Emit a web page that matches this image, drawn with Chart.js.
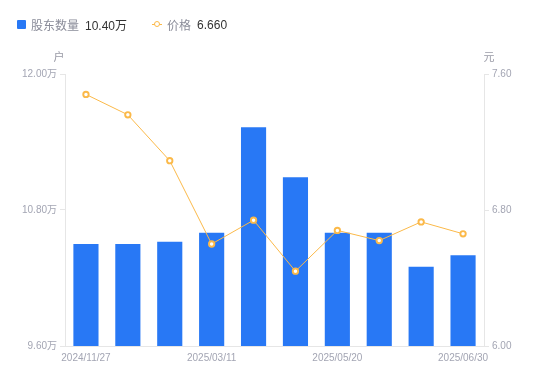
<!DOCTYPE html>
<html><head><meta charset="utf-8">
<script src="https://cdn.jsdelivr.net/npm/chart.js@4/dist/chart.umd.min.js"></script>
<style>
html,body{margin:0;padding:0;background:#fff;}
#wrap{position:relative;width:550px;height:381px;}
#legend{position:absolute;left:17px;top:16px;font-family:"Liberation Sans","Noto Sans CJK SC",sans-serif;font-size:12px;display:flex;align-items:center;white-space:nowrap;}
.lab{color:#8a8c99;margin-left:5px;}
.val{color:#333;margin-left:6px;}
.sq{width:9px;height:9px;background:#2878f5;border-radius:1px;display:inline-block;}
.ln{position:relative;width:10px;height:9px;display:inline-block;}
.ln:before{content:"";position:absolute;left:0;right:0;top:4px;height:1px;background:#fbb949;}
.ln:after{content:"";position:absolute;left:1.5px;top:1px;width:4px;height:4px;border:1.5px solid #fbb949;border-radius:50%;background:#fff;}
</style></head>
<body><div id="wrap">
<canvas id="c" width="550" height="381"></canvas>
<div id="legend"><span class="sq"></span><span class="lab">股东数量</span><span class="val">10.40万</span><span style="width:25px;display:inline-block"></span><span class="ln"></span><span class="lab">价格</span><span class="val">6.660</span></div>
</div>
<script>
const categories = ["2024/11/27","2024/12/10","2024/12/31","2025/03/11","2025/03/31","2025/04/30","2025/05/20","2025/06/10","2025/06/20","2025/06/30"];
const holders = [10.50,10.50,10.52,10.60,11.53,11.09,10.60,10.60,10.30,10.40];
const prices = [7.48,7.36,7.09,6.60,6.74,6.44,6.68,6.62,6.73,6.66];
const shownLabels = [0,3,6,9];
const leftTicks = [9.6,10.8,12.0];
const rightTicks = [6.0,6.8,7.6];

const FONT = '"Liberation Sans","Noto Sans CJK SC",sans-serif';
const GREY = '#a3a5b3';
const AXIS = '#e6e6e6';

const titles = {
  id:'titles',
  afterDraw(chart){
    const ctx = chart.ctx;
    ctx.save();
    ctx.font = '11px ' + FONT;
    ctx.fillStyle = '#999aa6';
    ctx.textAlign = 'center';
    ctx.textBaseline = 'middle';
    const y1 = chart.scales.y1, y2 = chart.scales.y2;
    ctx.fillText('户', y1.right - 6, y1.top - 16);
    ctx.fillText('元', y2.left + 5, y2.top - 16);
    ctx.restore();
  }
};

new Chart(document.getElementById('c'), {
  data:{
    labels:categories,
    datasets:[
      {type:'line', label:'价格', data:prices, yAxisID:'y2', borderColor:'#fbb949', borderWidth:1,
       pointRadius:2.7, pointBorderWidth:1.9, pointBackgroundColor:'#fff', pointBorderColor:'#fbb949', tension:0, order:0},
      {type:'bar', label:'股东数量', data:holders, yAxisID:'y1', backgroundColor:'#2878f5',
       barPercentage:0.6, categoryPercentage:1, order:1}
    ]
  },
  options:{
    responsive:false, animation:false,
    layout:{padding:{top:74,left:0,right:1,bottom:0}},
    plugins:{legend:{display:false}, tooltip:{enabled:false}},
    scales:{
      x:{
        offset:true,
        grid:{display:false, drawTicks:false},
        border:{color:AXIS},
        ticks:{autoSkip:false, maxRotation:0, padding:6, color:GREY, font:{size:10, family:FONT},
          callback:(v,i)=> shownLabels.includes(i) ? categories[i] : ''},
        afterFit(s){ s.height = 35; }
      },
      y1:{
        position:'left', min:9.6, max:12.0,
        afterBuildTicks(s){ s.ticks = leftTicks.map(v=>({value:v})); },
        grid:{drawOnChartArea:false, color:AXIS, tickLength:5},
        border:{color:AXIS},
        ticks:{color:GREY, padding:3, font:{size:10, family:FONT}, callback:v=>v.toFixed(2)+'万'},
        afterFit(s){ s.width = 65; }
      },
      y2:{
        position:'right', min:6.0, max:7.6,
        afterBuildTicks(s){ s.ticks = rightTicks.map(v=>({value:v})); },
        grid:{drawOnChartArea:false, color:AXIS, tickLength:5},
        border:{color:AXIS},
        ticks:{color:GREY, padding:3, font:{size:10, family:FONT}, callback:v=>v.toFixed(2)},
        afterFit(s){ s.width = 65; }
      }
    }
  },
  plugins:[titles]
});
</script>
</body></html>
